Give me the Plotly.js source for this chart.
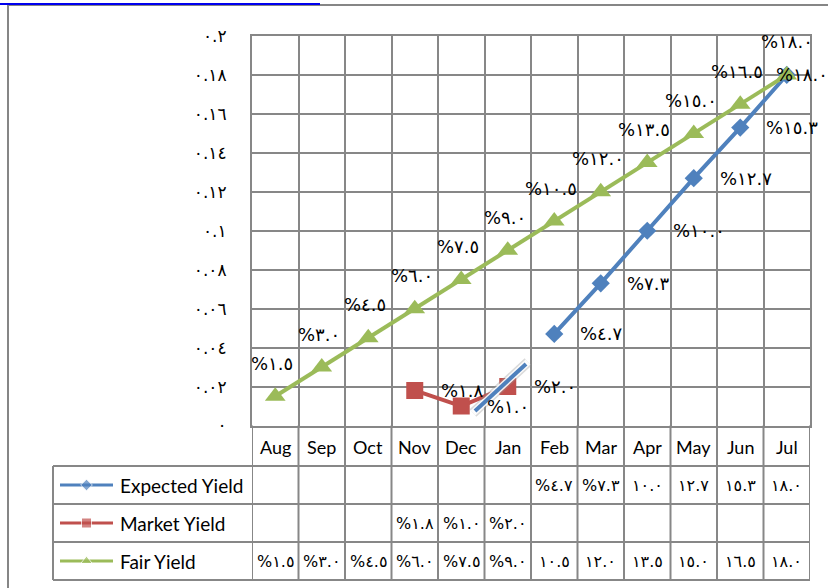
<!DOCTYPE html>
<html>
<head>
<meta charset="utf-8">
<script src="https://cdn.plot.ly/plotly-3.0.1.min.js"></script>
<style>html,body{margin:0;padding:0;background:#fff;}#chart{width:828px;height:588px;}</style>
</head>
<body>
<div id="chart"></div>
<script>
// ---- data ----
const months = ['Aug','Sep','Oct','Nov','Dec','Jan','Feb','Mar','Apr','May','Jun','Jul'];
const expectedYield = [null,null,null,null,null,null,0.047,0.073,0.100,0.127,0.153,0.180];
const marketYield   = [null,null,null,0.018,0.010,0.020,null,null,null,null,null,null];
const fairYield     = [0.015,0.030,0.045,0.060,0.075,0.090,0.105,0.120,0.135,0.150,0.165,0.180];
const seriesNames = ['Expected Yield','Market Yield','Fair Yield'];
const yTickVals = [0,0.02,0.04,0.06,0.08,0.1,0.12,0.14,0.16,0.18,0.2];
const yTickText = ['٠','٠.٠٢','٠.٠٤','٠.٠٦','٠.٠٨','٠.١','٠.١٢','٠.١٤','٠.١٦','٠.١٨','٠.٢'];

// ---- helpers ----
const W = 828, H = 588;
const PL = 252, PR = 810, PT = 36, PB = 425.5;
const colW = (PR - PL) / months.length;
const rowY = [485, 523, 561];
const rowLines = [466, 504, 542, 580];
const headerY = 447;
const tableLeft = 53;
const gridColor = '#878787';
const colors = ['#4F81BD', '#C0504D', '#9BBB59'];
const symbols = ['diamond', 'square', 'triangle-up'];
const markerSizes = [14, 17, 18];
const allSeries = [expectedYield, marketYield, fairYield];

const arabicDigits = '٠١٢٣٤٥٦٧٨٩';
function toArabic(s) { return s.replace(/[0-9]/g, d => arabicDigits[+d]); }
function pct(v) { return '%' + toArabic((v * 100).toFixed(1)); }
function cellText(v) { return v >= 0.1 ? toArabic((v * 100).toFixed(1)) : pct(v); }

const traces = [];
allSeries.forEach((vals, i) => {
  traces.push({
    type: 'scatter', mode: 'lines+markers', name: seriesNames[i],
    x: months, y: vals, xaxis: 'x', yaxis: 'y',
    line: {color: colors[i], width: 4},
    marker: {color: colors[i], symbol: symbols[i], size: markerSizes[i]},
    connectgaps: false, showlegend: false, hoverinfo: 'skip'
  });
  // legend key in table row
  traces.push({
    type: 'scatter', mode: 'lines+markers',
    x: [60, 86.5, 113], y: [rowY[i], rowY[i], rowY[i]], xaxis: 'x2', yaxis: 'y2',
    line: {color: colors[i], width: 3},
    marker: {color: colors[i], symbol: symbols[i], size: [0, i === 0 ? 9 : 10, 0]},
    showlegend: false, hoverinfo: 'skip'
  });
});

const shapes = [];
const ann = [];
const px = (x0, y0, x1, y1, color, width) => ({type: 'line', xref: 'x2', yref: 'y2', x0, y0, x1, y1, line: {color, width}, layer: 'above'});

// outer chart border and header link underline
shapes.push(px(8, 5, 8, 590, '#868686', 2));
shapes.push(px(8, 5, 830, 5, '#868686', 2));
shapes.push(px(0, 4, 320, 4, '#0000EE', 2));

// table lines
for (let i = 0; i <= months.length; i++) {
  shapes.push({type: 'line', xref: 'x', yref: 'y2', x0: i - 0.5, x1: i - 0.5, y0: PB, y1: rowLines[3], line: {color: gridColor, width: 2}});
}
rowLines.forEach(y => shapes.push(px(tableLeft, y, PR, y, gridColor, 2)));
shapes.push(px(tableLeft, rowLines[0], tableLeft, rowLines[3], gridColor, 2));

// stray blue stroke near Jan
shapes.push({type: 'line', xref: 'x2', yref: 'y2', x0: 473, y0: 413, x1: 528, y1: 362, line: {color: 'rgba(150,150,150,0.35)', width: 10}, layer: 'above'});
shapes.push({type: 'line', xref: 'x2', yref: 'y2', x0: 473, y0: 413, x1: 528, y1: 362, line: {color: 'rgba(255,255,255,0.9)', width: 7}, layer: 'above'});
shapes.push({type: 'line', xref: 'x2', yref: 'y2', x0: 475, y0: 411, x1: 526, y1: 364, line: {color: '#4F81BD', width: 4}, layer: 'above'});

const labelFont = {family: 'DejaVu Sans', size: 18, color: '#000'};
// point labels
months.forEach((m, j) => {
  const cx = PL + (j + 0.5) * colW;
  if (fairYield[j] != null) ann.push({x: m, y: fairYield[j], xref: 'x', yref: 'y', text: pct(fairYield[j]), showarrow: false, xshift: j === months.length - 1 ? 0 : -3, yshift: 33, font: labelFont});
  [expectedYield, marketYield].forEach(arr => {
    if (arr[j] == null) return;
    const a = {x: m, y: arr[j], xref: 'x', yref: 'y', text: pct(arr[j]), showarrow: false, xanchor: 'left', xshift: 24, font: labelFont};
    if (j === months.length - 1) { a.xanchor = 'right'; a.xshift = W + 2 - cx; }
    ann.push(a);
  });
});
// table header
months.forEach(m => ann.push({x: m, y: headerY, xref: 'x', yref: 'y2', text: m, showarrow: false, font: {family: 'Lato', size: 18, color: '#000'}}));
// row names + cells
allSeries.forEach((vals, i) => {
  ann.push({x: 118, y: rowY[i], xref: 'x2', yref: 'y2', xanchor: 'left', text: seriesNames[i], showarrow: false, font: {family: 'Lato', size: 19, color: '#000'}});
  months.forEach((m, j) => {
    if (vals[j] != null) ann.push({x: m, y: rowY[i], xref: 'x', yref: 'y2', text: cellText(vals[j]), showarrow: false, font: {family: 'DejaVu Sans', size: 16, color: '#000'}});
  });
});

const layout = {
  width: W, height: H,
  margin: {l: 0, r: 0, t: 0, b: 0},
  paper_bgcolor: '#fff', plot_bgcolor: 'rgba(0,0,0,0)',
  showlegend: false,
  xaxis: {
    type: 'category', domain: [PL / W, PR / W], anchor: 'y', range: [-0.5, months.length - 0.5],
    tickson: 'boundaries', showgrid: true, gridcolor: gridColor, gridwidth: 2,
    showline: true, mirror: true, linecolor: gridColor, linewidth: 2,
    ticks: '', showticklabels: false, fixedrange: true
  },
  yaxis: {
    domain: [(H - PB) / H, (H - PT) / H], anchor: 'x', range: [0, 0.2],
    tickvals: yTickVals, ticktext: yTickText, showgrid: true, gridcolor: gridColor, gridwidth: 2,
    zeroline: false, showline: true, mirror: true, linecolor: gridColor, linewidth: 2,
    ticks: '', ticklabelstandoff: 20, tickfont: {family: 'DejaVu Sans', size: 17, color: '#000'}, fixedrange: true
  },
  xaxis2: {domain: [0, 1], anchor: 'y2', range: [0, W], visible: false, fixedrange: true},
  yaxis2: {domain: [0, 1], anchor: 'x2', range: [H, 0], visible: false, fixedrange: true},
  shapes: shapes,
  annotations: ann
};

Plotly.newPlot('chart', traces, layout, {displayModeBar: false, staticPlot: true});
</script>
</body>
</html>
